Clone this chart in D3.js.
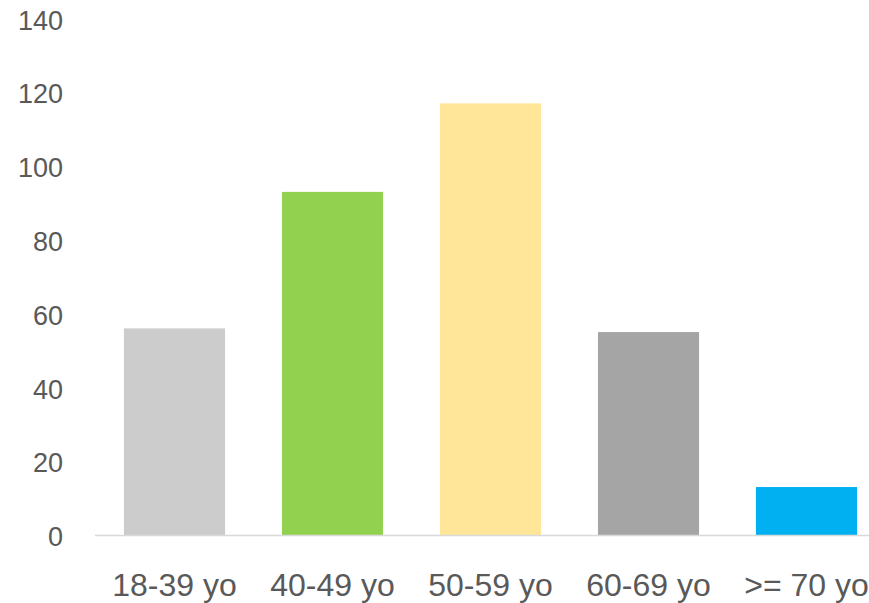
<!DOCTYPE html>
<html>
<head>
<meta charset="utf-8">
<script src="https://cdn.jsdelivr.net/npm/d3@7"></script>
<style>
  html, body { margin: 0; padding: 0; background: #fff; }
  svg { display: block; }
  text { font-family: "Liberation Sans", "DejaVu Sans", sans-serif; fill: #595959; }
</style>
</head>
<body>
<script>
// Respondents by age group
const categories = ["18-39 yo", "40-49 yo", "50-59 yo", "60-69 yo", ">= 70 yo"];
const values = [56, 93, 117, 55, 13];
const colors = ["#cccccc", "#92d050", "#ffe699", "#a5a5a5", "#00b0f0"];
const yTicks = [0, 20, 40, 60, 80, 100, 120, 140];

const W = 869, H = 603;
const svg = d3.select("body").append("svg").attr("width", W).attr("height", H);

const x = d3.scaleBand().domain(categories).range([95.5, 885.5]).paddingInner(0.36).paddingOuter(0.18);
const y = d3.scaleLinear().domain([0, 140]).range([535, 18.5]);

// bars
svg.append("g").selectAll("rect").data(values).join("rect")
  .attr("x", (d, i) => x(categories[i]))
  .attr("width", x.bandwidth())
  .attr("y", d => y(d))
  .attr("height", d => y(0) - y(d))
  .attr("fill", (d, i) => colors[i]);

// category axis line
svg.append("line")
  .attr("x1", 95).attr("x2", W)
  .attr("y1", y(0) + 0.5).attr("y2", y(0) + 0.5)
  .attr("stroke", "#d9d9d9").attr("stroke-width", 1.5);

// value axis labels
const yAxis = d3.axisLeft(y).tickValues(yTicks).tickSize(0).tickPadding(0);
const gy = svg.append("g").attr("transform", "translate(63,2)").call(yAxis);
gy.select(".domain").remove();
gy.selectAll("text")
  .attr("font-size", 27).attr("fill", "#595959")
  .attr("font-family", "Liberation Sans, sans-serif");

// category labels
const xAxis = d3.axisBottom(x).tickSize(0).tickPadding(0);
const gx = svg.append("g").attr("transform", "translate(0,596)").call(xAxis);
gx.select(".domain").remove();
gx.selectAll("text")
  .attr("dy", 0)
  .attr("font-size", 32).attr("fill", "#595959")
  .attr("font-family", "Liberation Sans, sans-serif");
</script>
</body>
</html>
